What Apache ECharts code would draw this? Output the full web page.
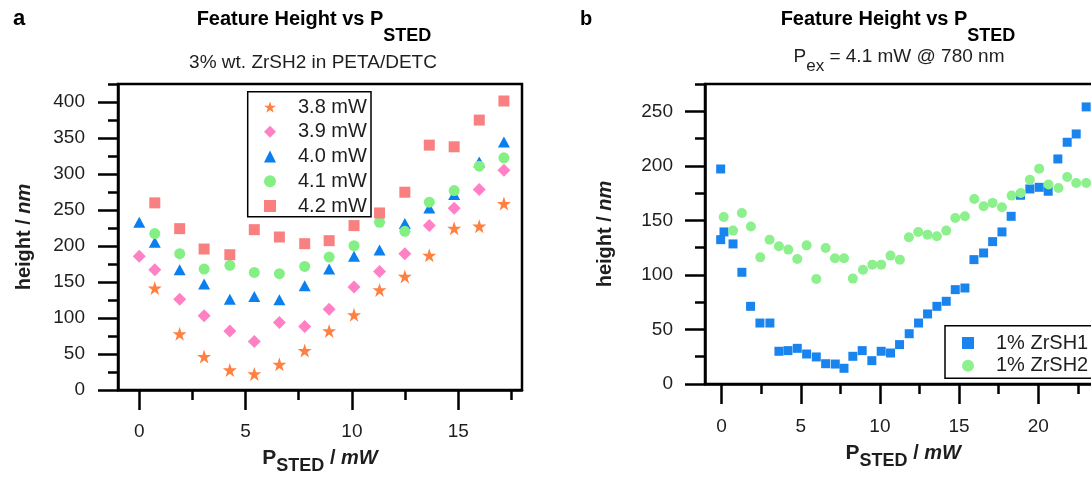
<!DOCTYPE html>
<html>
<head>
<meta charset="utf-8">
<title>Feature Height vs PSTED</title>
<script src="https://cdn.jsdelivr.net/npm/echarts@6/dist/echarts.min.js"></script>
<style>
    html, body { margin: 0; padding: 0; background: #fff; }
    #chart { width: 1091px; height: 481px; }
</style>
</head>
<body>
<div id="chart"></div>
<script>
// panel a : one column of P_STED values, one height list per excitation power
var stedA = [0, 0.73, 1.9, 3.05, 4.26, 5.41, 6.59, 7.78, 8.93, 10.1, 11.3, 12.49, 13.64, 14.81, 15.99, 17.15];
var h38 = [null, 141.5, 78, 46.4, 27.8, 22.3, 35.7, 54.8, 82.1, 104.4, 139, 157.8, 187, 224.6, 227.4, 258.9];
var h39 = [185.6, 167, 126.2, 103, 82.1, 67.3, 93.7, 88.2, 112.3, 142.9, 164.7, 189.3, 228.3, 252.4, 278.4, 305.3];
var h40 = [233, 205.1, 167, 147.1, 126.2, 129.9, 125.3, 144.8, 168, 185.6, 194.5, 231.1, 252.9, 271.5, 316.5, 344.3];
var h41 = [null, 217.2, 189.3, 168, 173.1, 163.3, 161.5, 171.7, 184.7, 200.5, 233, 220.4, 260.8, 277, 310.9, 322.5];
var h42 = [null, 259.9, 224.1, 195.8, 187.9, 222.7, 212.5, 203.2, 207.4, 228.3, 245.9, 274.7, 340.1, 337.8, 374.9, 401.4];
var namesA = ['3.8 mW', '3.9 mW', '4.0 mW', '4.1 mW', '4.2 mW'];

// panel b
var stedZr1 = [-0.06, -0.06, 0.15, 0.72, 1.28, 1.83, 2.42, 3.05, 3.62, 4.19, 4.78, 5.37, 5.98, 6.57, 7.18, 7.73,
    8.29, 8.88, 9.49, 10.08, 10.67, 11.24, 11.85, 12.44, 13.01, 13.6, 14.19, 14.76, 15.37, 15.94, 16.55, 17.12,
    17.71, 18.29, 18.88, 19.47, 20.06, 20.63, 21.24, 21.83, 22.4, 23.03];
var hZr1 = [197.1, 132.3, 139.4, 128.4, 102.4, 71.2, 55.9, 55.9, 30, 30.6, 32.7, 27.5, 24.8, 18.6, 18.3, 14.4,
    25.4, 30.6, 21.4, 30, 28.4, 36.1, 46.1, 55.9, 64.2, 71.2, 75.8, 86.5, 88, 114, 120.1, 130.5,
    139.4, 153.7, 173, 178.8, 180.3, 176.7, 206.3, 221.6, 229.2, 254];
var stedZr2 = [0.13, 0.72, 1.28, 1.85, 2.44, 3.03, 3.62, 4.21, 4.78, 5.37, 5.98, 6.57, 7.16, 7.73, 8.29, 8.93,
    9.52, 10.08, 10.67, 11.26, 11.83, 12.42, 13.01, 13.6, 14.19, 14.76, 15.37, 15.96, 16.55, 17.12, 17.71, 18.32,
    18.9, 19.47, 20.06, 20.65, 21.28, 21.83, 22.4, 23.03];
var hZr2 = [153.1, 140.6, 156.8, 144.3, 116.1, 132.3, 126.2, 123.2, 114.6, 127.1, 96.3, 124.7, 115.2, 115.2, 96.6, 104.8,
    109.4, 109.4, 117.7, 114, 134.5, 139.4, 136.9, 135.4, 140.6, 152.2, 153.7, 169.6, 162.9, 166, 162, 172.7,
    175.1, 187.3, 197.4, 182.8, 179.7, 189.8, 184.3, 184.3];
var namesB = ['1% ZrSH1', '1% ZrSH2'];

var FONT = '"Liberation Sans", Arial, sans-serif';
var INK = '#1e1e1e';
var STAR = 'path://M50,0 L61.8,35.4 L99,35.4 L69,57.3 L80.3,92.7 L50,70.8 L19.7,92.7 L31,57.3 L1,35.4 L38.2,35.4 Z';

function pairs(xs, ys) {
    var out = [];
    for (var i = 0; i < xs.length; i++) {
        if (ys[i] != null) out.push([xs[i], ys[i]]);
    }
    return out;
}

// plot boxes (pixels)
var aL = 118, aT = 84, aW = 404, aH = 306;          // x -1..18, y 0..425
var aPx = aW / 19, aPy = aH / 425;
var a0 = aL + aPx;
var bL = 705, bT = 84, bH = 300, bPx = 15.83;       // x -1.05..24, y 0..275
var bW = 25.05 * bPx, bPy = bH / 275;
var b0 = bL + 1.05 * bPx;

var nameRich = {
    p: { fontFamily: FONT, fontSize: 21, fontWeight: 'bold', color: INK, lineHeight: 24 },
    s: { fontFamily: FONT, fontSize: 18, fontWeight: 'bold', color: INK, lineHeight: 24, padding: [16, 0, 0, 0] },
    u: { fontFamily: FONT, fontSize: 20, fontWeight: 'bold', color: INK, lineHeight: 24 },
    i: { fontFamily: FONT, fontSize: 20, fontWeight: 'bold', fontStyle: 'italic', color: INK, lineHeight: 24 }
};

function frameX(grid, min, max, gap) {
    return {
        gridIndex: grid, type: 'value', min: min, max: max,
        axisLine: { show: true, onZero: false, lineStyle: { color: '#000', width: 2.5 } },
        axisTick: { show: false }, axisLabel: { show: false }, splitLine: { show: false },
        name: '{p|P}{s|STED}{u| / }{i|mW}', nameLocation: 'middle', nameGap: gap,
        nameTextStyle: { rich: nameRich }
    };
}
function frameY(grid, max, gap) {
    return {
        gridIndex: grid, type: 'value', min: 0, max: max,
        axisLine: { show: true, onZero: false, lineStyle: { color: '#000', width: 2.5 } },
        axisTick: { show: false }, axisLabel: { show: false }, splitLine: { show: false },
        name: '{u|height / }{i|nm}', nameLocation: 'middle', nameGap: gap,
        nameTextStyle: { rich: nameRich }
    };
}
function tickAxis(grid, max, step, len, labels, offset, margin) {
    return {
        gridIndex: grid, type: 'value', min: 0, max: max, interval: step, offset: offset || 0,
        axisLine: { show: false, onZero: false },
        axisTick: { show: true, length: len, lineStyle: { color: '#000', width: 2.5 } },
        axisLabel: { show: labels, margin: margin, fontFamily: FONT, fontSize: 19, color: INK },
        splitLine: { show: false }
    };
}
function scatter(name, xs, ys, grid, symbol, size, color) {
    return {
        type: 'scatter', name: name, xAxisIndex: grid, yAxisIndex: grid,
        symbol: symbol, symbolSize: size,
        itemStyle: { color: color, opacity: 1 },
        data: pairs(xs, ys)
    };
}

var chart = echarts.init(document.getElementById('chart'), null, { renderer: 'canvas' });

var option = {
    animation: false,
    backgroundColor: '#fff',
    grid: [
        { left: aL, top: aT, width: aW, height: aH, show: true, borderColor: '#000', borderWidth: 2.5, outerBoundsMode: 'none' },
        { left: a0, top: aT + aH - 400 * aPy, width: 15 * aPx, height: 400 * aPy, outerBoundsMode: 'none' },
        { left: a0, top: aT, width: 17.5 * aPx, height: aH, outerBoundsMode: 'none' },
        { left: bL, top: bT, width: bW, height: bH, show: true, borderColor: '#000', borderWidth: 2.5, outerBoundsMode: 'none' },
        { left: b0, top: bT + bH - 250 * bPy, width: 20 * bPx, height: 250 * bPy, outerBoundsMode: 'none' },
        { left: b0, top: bT, width: 22.5 * bPx, height: bH, outerBoundsMode: 'none' }
    ],
    xAxis: [
        frameX(0, -1, 18, 56),
        tickAxis(1, 15, 5, 20, true, 0, 32),
        tickAxis(2, 17.5, 2.5, 10, false, 0, 0),
        frameX(3, -1.05, 24, 57),
        tickAxis(4, 20, 5, 20, true, 0, 33),
        tickAxis(5, 22.5, 2.5, 10, false, 0, 0)
    ],
    yAxis: [
        frameY(0, 425, 82),
        tickAxis(1, 400, 50, 20, true, aPx, 33),
        tickAxis(2, 425, 25, 10, false, aPx, 0),
        frameY(3, 275, 88),
        tickAxis(4, 250, 50, 20, true, 1.05 * bPx, 32),
        tickAxis(5, 275, 25, 10, false, 1.05 * bPx, 0)
    ],
    legend: [
        {
            data: namesA, orient: 'vertical', left: 264, top: 97, padding: 0,
            itemWidth: 12, itemHeight: 12, itemGap: 4.75, selectedMode: false,
            formatter: '{t|{name}}',
            textStyle: { rich: { t: { fontFamily: FONT, fontSize: 20, lineHeight: 20, color: INK, padding: [0, 0, 0, 17] } } }
        },
        {
            data: namesB, orient: 'vertical', left: 962, top: 333, padding: 0,
            itemWidth: 12, itemHeight: 12, itemGap: 2.7, selectedMode: false,
            formatter: '{t|{name}}',
            textStyle: { rich: { t: { fontFamily: FONT, fontSize: 20, lineHeight: 20, color: INK, padding: [0, 0, 0, 17] } } }
        }
    ],
    graphic: [
        { type: 'rect', z: 3, shape: { x: 247.7, y: 91.7, width: 123.3, height: 125 },
          style: { fill: '#fff', stroke: '#000', lineWidth: 1.5 } },
        { type: 'rect', z: 3, shape: { x: 945, y: 325.7, width: 200, height: 52.6 },
          style: { fill: '#fff', stroke: '#000', lineWidth: 1.5 } },
        { type: 'text', x: 13, y: 19, style: { text: 'a', font: 'bold 22px ' + FONT, fill: '#000',
          verticalAlign: 'middle', textVerticalAlign: 'middle' } },
        { type: 'text', x: 580, y: 19, style: { text: 'b', font: 'bold 20px ' + FONT, fill: '#000',
          verticalAlign: 'middle', textVerticalAlign: 'middle' } },
        { type: 'text', x: 314, y: 19.5, style: {
            text: '{m|Feature Height vs P}{s|STED}',
            align: 'center', textAlign: 'center', verticalAlign: 'middle', textVerticalAlign: 'middle',
            rich: {
                m: { fontFamily: FONT, fontSize: 20, fontWeight: 'bold', fill: '#000', lineHeight: 24 },
                s: { fontFamily: FONT, fontSize: 18, fontWeight: 'bold', fill: '#000', lineHeight: 24, padding: [33, 0, 0, 0] }
            } } },
        { type: 'text', x: 313, y: 62.5, style: {
            text: '3% wt. ZrSH2 in PETA/DETC', font: '19px ' + FONT, fill: INK,
            align: 'center', textAlign: 'center', verticalAlign: 'middle', textVerticalAlign: 'middle' } },
        { type: 'text', x: 898, y: 19.5, style: {
            text: '{m|Feature Height vs P}{s|STED}',
            align: 'center', textAlign: 'center', verticalAlign: 'middle', textVerticalAlign: 'middle',
            rich: {
                m: { fontFamily: FONT, fontSize: 20, fontWeight: 'bold', fill: '#000', lineHeight: 24 },
                s: { fontFamily: FONT, fontSize: 18, fontWeight: 'bold', fill: '#000', lineHeight: 24, padding: [33, 0, 0, 0] }
            } } },
        { type: 'text', x: 899, y: 56.7, style: {
            text: '{m|P}{s|ex}{m| = 4.1 mW @ 780 nm}',
            align: 'center', textAlign: 'center', verticalAlign: 'middle', textVerticalAlign: 'middle',
            rich: {
                m: { fontFamily: FONT, fontSize: 19, fill: INK, lineHeight: 22 },
                s: { fontFamily: FONT, fontSize: 17, fill: INK, lineHeight: 22, padding: [20, 0, 0, 0] }
            } } }
    ],
    series: [
        scatter(namesA[0], stedA, h38, 0, STAR, 14, '#ff8040'),
        scatter(namesA[1], stedA, h39, 0, 'diamond', 13, '#ff80c4'),
        scatter(namesA[2], stedA, h40, 0, 'triangle', [12, 11], '#0a7ff0'),
        scatter(namesA[3], stedA, h41, 0, 'circle', 11, '#84f084'),
        scatter(namesA[4], stedA, h42, 0, 'rect', 11, '#f88080'),
        scatter(namesB[0], stedZr1, hZr1, 3, 'rect', 9, '#1a84ee'),
        scatter(namesB[1], stedZr2, hZr2, 3, 'circle', 10, '#8cf08c')
    ]
};

chart.setOption(option);
window.addEventListener('resize', chart.resize);
</script>
</body>
</html>
